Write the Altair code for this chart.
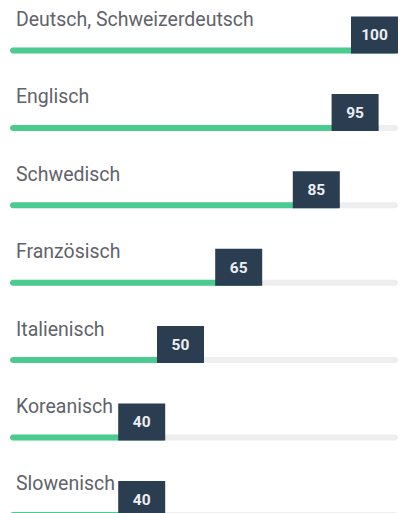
import altair as alt
import pandas as pd

languages = ["Deutsch, Schweizerdeutsch", "Englisch", "Schwedisch", "Französisch",
             "Italienisch", "Koreanisch", "Slowenisch"]
levels = [100, 95, 85, 65, 50, 40, 40]

df = pd.DataFrame({"lang": languages, "value": levels})

FONT = "Roboto"
y = alt.Y("lang:N", sort=languages, axis=None,
          scale=alt.Scale(paddingInner=0, paddingOuter=0))
xs = alt.Scale(domain=[0, 100], nice=False, zero=True)

BAR_OFF = 3.8
BOX_OFF = BAR_OFF - 15.5
LABEL_OFF = BAR_OFF - 24.5

base = alt.Chart(df)

track = base.mark_bar(height=6, color="#eeeeee", yOffset=BAR_OFF, cornerRadius=3).encode(
    y=y,
    x=alt.X(datum=0, type="quantitative", scale=xs, axis=None),
    x2=alt.X2(datum=100))

fill = base.mark_bar(height=6, color="#4ccb90", yOffset=BAR_OFF, cornerRadius=3).encode(
    y=y,
    x=alt.X("value:Q", scale=xs, axis=None),
    x2=alt.X2(datum=0))

box = base.mark_bar(height=37, color="#2b3d51", yOffset=BOX_OFF, xOffset=-47, x2Offset=0).encode(
    y=y,
    x=alt.X("value:Q", scale=xs, axis=None),
    x2=alt.X2("value:Q"))

box_text = base.mark_text(font=FONT, fontSize=15.5, fontWeight="bold", color="#eceef1",
                          align="center", baseline="middle", xOffset=-23.5,
                          yOffset=BOX_OFF + 0.5).encode(
    y=y,
    x=alt.X("value:Q", scale=xs, axis=None),
    text=alt.Text("value:Q"))

label = base.mark_text(font=FONT, fontSize=19.5, color="#5f636a", align="left",
                       baseline="alphabetic", xOffset=6, yOffset=LABEL_OFF).encode(
    y=y,
    x=alt.X(datum=0, type="quantitative", scale=xs, axis=None),
    text="lang:N")

chart = alt.layer(track, fill, box, box_text, label).properties(
    width=388, height=alt.Step(77.4), background="white",
    padding={"left": 2, "top": 0, "right": 0, "bottom": 0},
).configure_view(strokeWidth=0, stroke="transparent").configure_axis(
    grid=False, domain=False, ticks=False, labels=False
)

chart.save("out.html", embed_options={"renderer": "svg", "actions": False})
